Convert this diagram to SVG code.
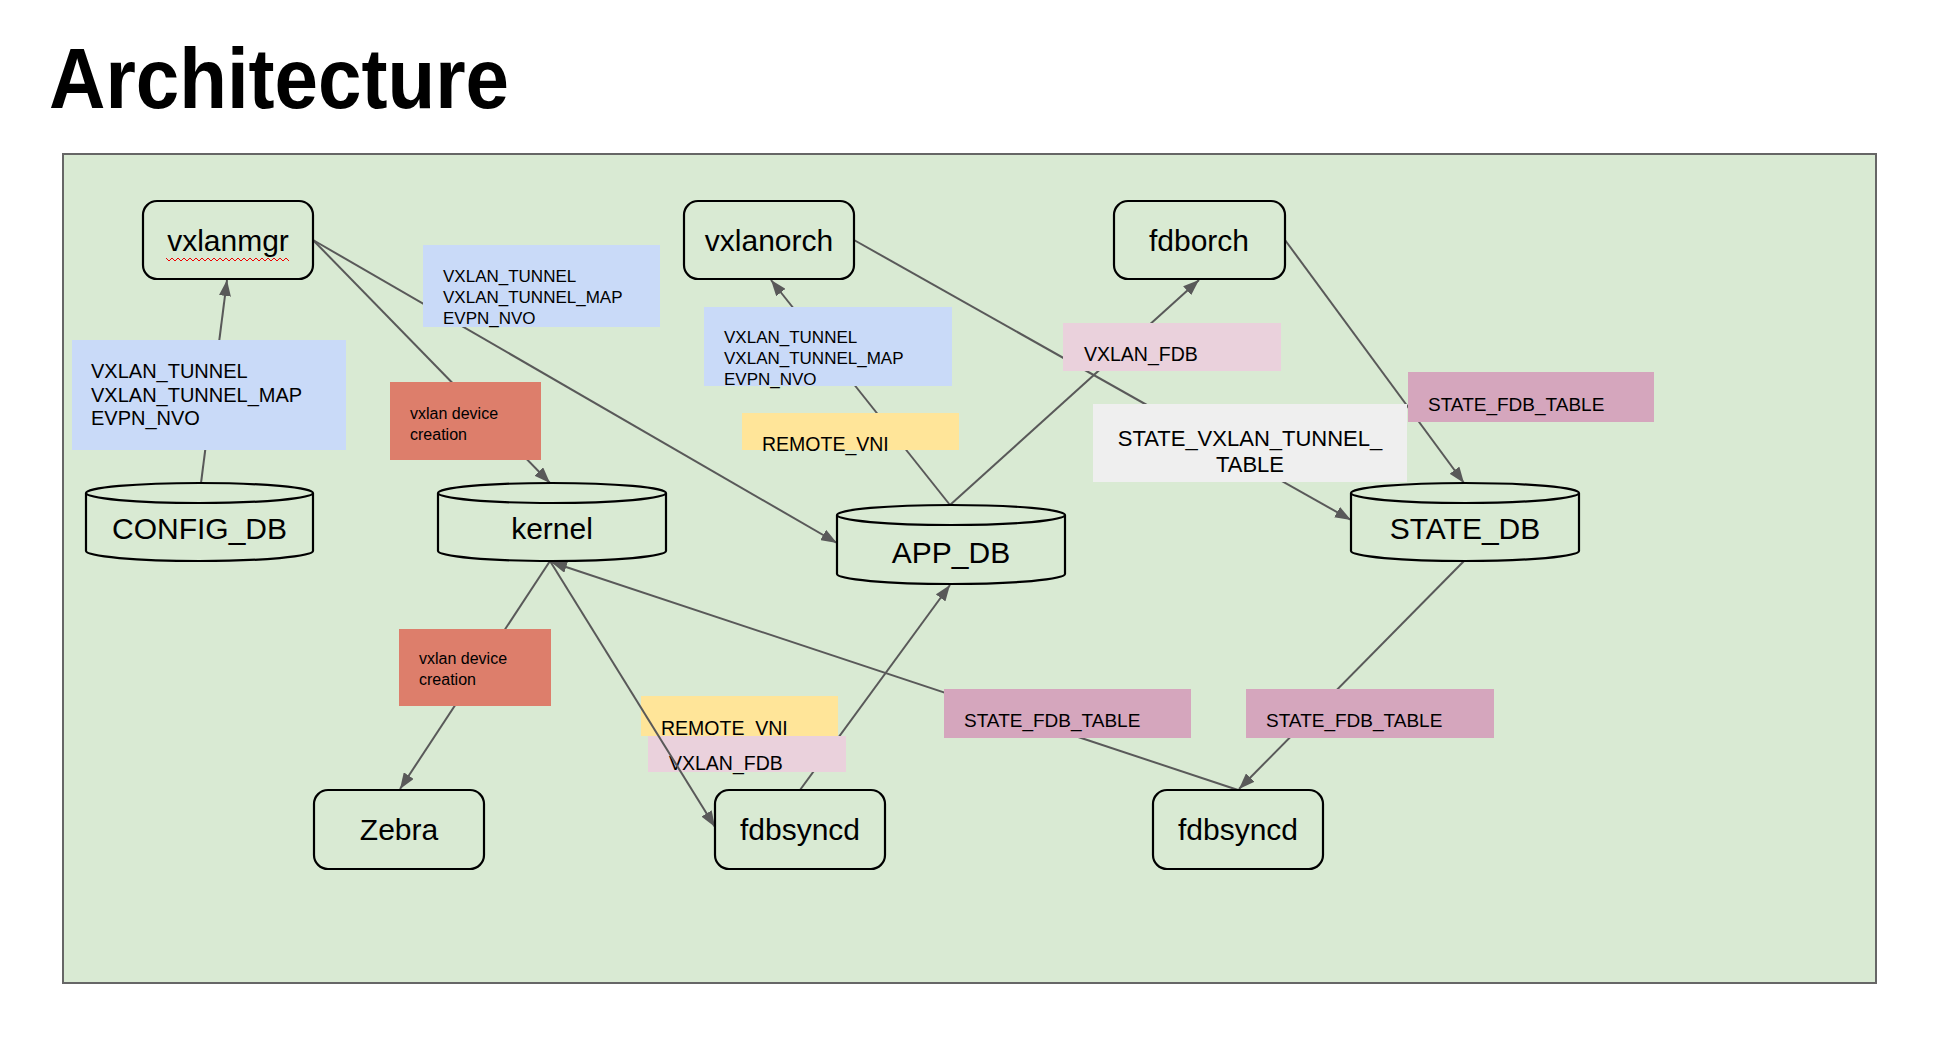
<svg xmlns="http://www.w3.org/2000/svg" width="1933" height="1056" viewBox="0 0 1933 1056">
<defs>
<style>
.node{fill:#d9ead3;stroke:#000;stroke-width:2.2}
.nt{font-family:"Liberation Sans",Arial,sans-serif;font-size:30px;fill:#000;text-anchor:middle}
.lt{font-family:"Liberation Sans",Arial,sans-serif;fill:#000}
.edge{fill:none;stroke:#595959;stroke-width:2}
</style>
<marker id="arr" viewBox="0 0 16 12" refX="16" refY="6" markerWidth="16" markerHeight="12" markerUnits="userSpaceOnUse" orient="auto">
<path d="M0,0 L16,6 L0,12 Z" fill="#595959"/>
</marker>
</defs>
<rect width="1933" height="1056" fill="#fff"/>
<text x="49" y="108" font-family="Liberation Sans,Arial,sans-serif" font-weight="bold" font-size="85" textLength="460" lengthAdjust="spacingAndGlyphs">Architecture</text>
<rect x="63" y="154" width="1813" height="829" fill="#d9ead3" stroke="#666" stroke-width="2"/>

<g id="connectors">
<line class="edge" x1="201" y1="483" x2="227" y2="280" marker-end="url(#arr)"/>
<line class="edge" x1="313" y1="240" x2="550" y2="483" marker-end="url(#arr)"/>
<line class="edge" x1="313" y1="240" x2="837" y2="543" marker-end="url(#arr)"/>
<line class="edge" x1="950" y1="505" x2="771" y2="280" marker-end="url(#arr)"/>
<line class="edge" x1="950" y1="505" x2="1199" y2="280" marker-end="url(#arr)"/>
<line class="edge" x1="854" y1="240" x2="1351" y2="520" marker-end="url(#arr)"/>
<line class="edge" x1="1285" y1="240" x2="1464" y2="483" marker-end="url(#arr)"/>
<line class="edge" x1="550" y1="561" x2="400" y2="789" marker-end="url(#arr)"/>
<line class="edge" x1="1238" y1="790" x2="551" y2="562" marker-end="url(#arr)"/>
<line class="edge" x1="800" y1="790" x2="950" y2="585" marker-end="url(#arr)"/>
<line class="edge" x1="1464" y1="561" x2="1239" y2="789" marker-end="url(#arr)"/>
</g>

<g id="labels">
<g id="lbl-config"><rect x="72" y="340" width="274" height="110" fill="#c9daf8"/>
<text class="lt" font-size="20" x="91" y="378">VXLAN_TUNNEL</text>
<text class="lt" font-size="20" x="91" y="402">VXLAN_TUNNEL_MAP</text>
<text class="lt" font-size="20" x="91" y="425">EVPN_NVO</text></g>
<g id="lbl-mgr-app"><rect x="423" y="245" width="237" height="82" fill="#c9daf8"/>
<text class="lt" font-size="17" x="443" y="282">VXLAN_TUNNEL</text>
<text class="lt" font-size="17" x="443" y="303">VXLAN_TUNNEL_MAP</text>
<text class="lt" font-size="17" x="443" y="324">EVPN_NVO</text></g>
<g id="lbl-dev1"><rect x="390" y="382" width="151" height="78" fill="#dd7e6b"/>
<text class="lt" font-size="16" x="410" y="419">vxlan device</text>
<text class="lt" font-size="16" x="410" y="440">creation</text></g>
<g id="lbl-dev2"><rect x="399" y="629" width="152" height="77" fill="#dd7e6b"/>
<text class="lt" font-size="16" x="419" y="664">vxlan device</text>
<text class="lt" font-size="16" x="419" y="685">creation</text></g>
<g id="lbl-orch"><rect x="704" y="307" width="248" height="79" fill="#c9daf8"/>
<text class="lt" font-size="17" x="724" y="343">VXLAN_TUNNEL</text>
<text class="lt" font-size="17" x="724" y="364">VXLAN_TUNNEL_MAP</text>
<text class="lt" font-size="17" x="724" y="385">EVPN_NVO</text></g>
<g id="lbl-rvni1"><rect x="742" y="413" width="217" height="37" fill="#ffe599"/>
<text class="lt" font-size="19.5" x="762" y="451">REMOTE_VNI</text></g>
<g id="lbl-fdb1"><rect x="1063" y="323" width="218" height="48" fill="#ead1dc"/>
<text class="lt" font-size="19.5" x="1084" y="361">VXLAN_FDB</text></g>
<g id="lbl-svt"><rect x="1093" y="404" width="314" height="78" fill="#efefef"/>
<text class="lt" font-size="22" x="1250" y="446" text-anchor="middle">STATE_VXLAN_TUNNEL_</text>
<text class="lt" font-size="22" x="1250" y="472" text-anchor="middle">TABLE</text></g>
<g id="lbl-sft1"><rect x="1408" y="372" width="246" height="50" fill="#d5a6bd"/>
<text class="lt" font-size="19" x="1428" y="411">STATE_FDB_TABLE</text></g>
<g id="lbl-rvni2"><rect x="641" y="696" width="197" height="40" fill="#ffe599"/>
<text class="lt" font-size="19.5" x="661" y="735">REMOTE_VNI</text></g>
<g id="lbl-fdb2"><rect x="648" y="736" width="198" height="36" fill="#ead1dc"/>
<text class="lt" font-size="19.5" x="669" y="770">VXLAN_FDB</text></g>
<g id="lbl-sft2"><rect x="944" y="689" width="247" height="49" fill="#d5a6bd"/>
<text class="lt" font-size="19" x="964" y="727">STATE_FDB_TABLE</text></g>
<g id="lbl-sft3"><rect x="1246" y="689" width="248" height="49" fill="#d5a6bd"/>
<text class="lt" font-size="19" x="1266" y="727">STATE_FDB_TABLE</text></g>
</g>

<g id="connectors-front">
<line class="edge" x1="550" y1="561" x2="715" y2="827" marker-end="url(#arr)"/>
</g>

<g id="vxlanmgr"><rect class="node" x="143" y="201" width="170" height="78" rx="14"/>
<text class="nt" x="228" y="251">vxlanmgr</text>
<polyline points="166,258 169,261 172,258 175,261 178,258 181,261 184,258 187,261 190,258 193,261 196,258 199,261 202,258 205,261 208,258 211,261 214,258 217,261 220,258 223,261 226,258 229,261 232,258 235,261 238,258 241,261 244,258 247,261 250,258 253,261 256,258 259,261 262,258 265,261 268,258 271,261 274,258 277,261 280,258 283,261 286,258 289,261" fill="none" stroke="#e00" stroke-width="1"/></g>
<g id="vxlanorch"><rect class="node" x="684" y="201" width="170" height="78" rx="14"/>
<text class="nt" x="769" y="251">vxlanorch</text></g>
<g id="fdborch"><rect class="node" x="1114" y="201" width="171" height="78" rx="14"/>
<text class="nt" x="1199" y="251">fdborch</text></g>
<g id="zebra"><rect class="node" x="314" y="790" width="170" height="79" rx="14"/>
<text class="nt" x="399" y="840">Zebra</text></g>
<g id="fdbsyncd1"><rect class="node" x="715" y="790" width="170" height="79" rx="14"/>
<text class="nt" x="800" y="840">fdbsyncd</text></g>
<g id="fdbsyncd2"><rect class="node" x="1153" y="790" width="170" height="79" rx="14"/>
<text class="nt" x="1238" y="840">fdbsyncd</text></g>

<g id="config_db"><path class="node" d="M86,493 V551 A113.5,10 0 0 0 313,551 V493"/>
<ellipse class="node" cx="199.5" cy="493" rx="113.5" ry="10"/>
<text class="nt" x="199.5" y="539">CONFIG_DB</text></g>
<g id="kernel"><path class="node" d="M438,493 V551 A114,10 0 0 0 666,551 V493"/>
<ellipse class="node" cx="552" cy="493" rx="114" ry="10"/>
<text class="nt" x="552" y="539">kernel</text></g>
<g id="app_db"><path class="node" d="M837,515 V574 A114,10 0 0 0 1065,574 V515"/>
<ellipse class="node" cx="951" cy="515" rx="114" ry="10"/>
<text class="nt" x="951" y="563">APP_DB</text></g>
<g id="state_db"><path class="node" d="M1351,493 V551 A114,10 0 0 0 1579,551 V493"/>
<ellipse class="node" cx="1465" cy="493" rx="114" ry="10"/>
<text class="nt" x="1465" y="539">STATE_DB</text></g>
</svg>
